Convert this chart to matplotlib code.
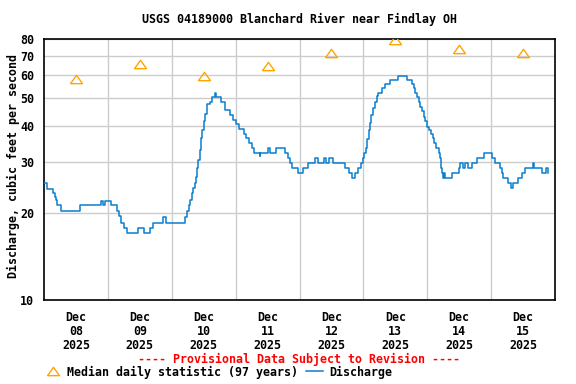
import matplotlib
matplotlib.use("Agg")
import matplotlib.pyplot as plt
from matplotlib.lines import Line2D

# Discharge readings (hours since Dec 08 00:00, cfs), step changes
hours = [0, 1.2, 3.3, 4.0, 4.5, 5.0, 6.5, 13.6, 21.3, 22.2, 23.0, 25.1, 27.5, 28.2,
         29.1, 30.1, 31.2, 35.4, 37.6, 39.8, 41.0, 44.7, 45.8, 53.0, 53.7, 54.5,
         55.0, 55.6, 56.1, 56.6, 57.0, 57.5, 58.0, 58.5, 59.0, 59.5, 60.0, 60.5,
         61.2, 62.3, 63.3, 64.1, 64.8, 66.6, 68.0, 70.0, 71.0, 72.0, 73.2, 75.0,
         76.0, 77.0, 78.0, 78.8, 81.0, 81.25, 84.1, 84.75, 87.0, 90.4, 91.6, 92.5,
         93.25, 95.4, 97.2, 99.1, 101.9, 102.9, 105.1, 106.0, 107.25, 108.75,
         113.0, 114.75, 115.75, 117.0, 118.0, 119.0, 119.75, 120.4, 121.0, 121.5,
         122.0, 122.5, 123.0, 123.6, 124.25, 125.0, 125.4, 127.0, 128.25, 130.1,
         132.9, 136.4, 138.25, 138.9, 139.5, 140.1, 140.75, 141.4, 142.0, 142.6,
         143.25, 143.9, 144.75, 145.4, 146.0, 146.6, 147.25, 148.25, 148.75,
         149.0, 149.4, 149.75, 150.25, 150.75, 153.25, 155.75, 156.25, 157.25,
         158.25, 159.25, 160.75, 162.75, 165.25, 168.25, 169.5, 171.25, 172.0,
         172.5, 174.5, 175.4, 176.25, 178.25, 179.5, 180.75, 183.75, 184.1,
         187.25, 188.75, 189.25, 189.5]
flow = [25.5, 24.2, 23.4, 22.8, 22.2, 21.3, 20.3, 21.3, 22.0, 21.3, 22.0, 21.3,
        20.3, 19.5, 18.5, 17.7, 17.0, 17.7, 17.0, 17.7, 18.5, 19.3, 18.5, 19.3,
        20.3, 21.3, 22.2, 23.4, 24.4, 25.5, 26.7, 28.6, 30.5, 33.0, 36.3, 38.8,
        41.5, 44.0, 47.5, 48.5, 50.3, 52.0, 50.3, 48.5, 45.4, 43.5, 42.0, 40.5,
        39.1, 37.6, 36.3, 34.9, 33.5, 32.2, 31.4, 32.2, 33.5, 32.2, 33.5, 32.2,
        30.9, 29.7, 28.6, 27.4, 28.6, 29.7, 30.9, 29.7, 30.9, 29.7, 30.9, 29.7,
        28.6, 27.4, 26.4, 27.4, 28.6, 29.7, 30.9, 32.2, 33.5, 36.0, 38.8, 41.0,
        43.5, 46.0, 48.5, 51.0, 52.0, 54.0, 55.9, 57.7, 59.6, 57.7, 56.0, 54.0,
        52.0, 50.5, 48.5, 46.7, 45.0, 43.1, 41.5, 39.8, 38.8, 37.6, 36.3, 34.9,
        33.5, 32.2, 30.9, 28.6, 27.4, 26.4, 27.4, 26.4, 27.4, 28.6, 29.7, 28.6,
        29.7, 28.6, 29.7, 30.9, 32.2, 30.9, 29.7, 28.6, 27.4, 26.4, 25.5, 24.4,
        25.5, 26.4, 27.4, 28.6, 29.7, 28.6, 27.4, 28.6, 27.4, 27.4]

# Median daily statistic, plotted at noon of each day
median_hours = [12, 36, 60, 84, 108, 132, 156, 180]
median_flow = [58.4, 65.3, 59.4, 64.3, 71.4, 79.2, 73.7, 71.4]

day_labels = ["Dec\n08\n2025", "Dec\n09\n2025", "Dec\n10\n2025", "Dec\n11\n2025",
              "Dec\n12\n2025", "Dec\n13\n2025", "Dec\n14\n2025", "Dec\n15\n2025"]
y_ticks = [10, 20, 30, 40, 50, 60, 70, 80]

line_color = "#0a7ecf"
tri_color = "#ffa500"
tri = [(-1, -0.7), (1, -0.7), (0, 0.7), (-1, -0.7)]  # flat open triangle
font = {"family": "DejaVu Sans Mono", "weight": "bold", "size": 8.4}

fig = plt.figure(figsize=(5.76, 3.84), dpi=100)
ax = fig.add_axes([44/576, 1-300/384, (555-44)/576, (300-39)/384])

ax.plot(hours, flow, color=line_color, lw=1.1, drawstyle="steps-post", zorder=3)
ax.plot(median_hours, median_flow, ls="none", marker=tri, ms=8.6, mfc="none",
        mec=tri_color, mew=1.0, zorder=4)

ax.set_yscale("log")
ax.set_ylim(10, 80)
ax.set_yticks(y_ticks)
ax.set_yticklabels([str(v) for v in y_ticks], fontdict=font)
ax.yaxis.set_minor_locator(matplotlib.ticker.NullLocator())

ax.set_xlim(0, 192)
ax.set_xticks(range(24, 192, 24))
ax.set_xticklabels([])
ax.set_xticks(median_hours, minor=True)
ax.set_xticklabels(day_labels, minor=True, fontdict=font, linespacing=1.1)

ax.tick_params(axis="both", which="both", length=0)
ax.tick_params(axis="y", pad=7)
ax.tick_params(axis="x", which="minor", pad=8)
ax.grid(True, which="major", color="#cccccc", lw=1)
for s in ax.spines.values():
    s.set_linewidth(1.2)

fig.text(299.5/576, 1-19/384, "USGS 04189000 Blanchard River near Findlay OH",
         ha="center", va="center", fontdict=font)
fig.text(13/576, 1-166/384, "Discharge, cubic feet per second", rotation=90,
         ha="center", va="center", fontdict=font)
fig.text(298.5/576, 1-359/384, "---- Provisional Data Subject to Revision ----",
         ha="center", va="center", color="red", fontdict=font)

# legend row
fig.add_artist(Line2D([53/576], [1-371/384], transform=fig.transFigure, ls="none",
                      marker=tri, ms=8.6, mfc="none", mec=tri_color, mew=1.0))
fig.text(67/576, 1-372/384, "Median daily statistic (97 years)", ha="left",
         va="center", fontdict=font)
fig.add_artist(Line2D([306/576, 323/576], [1-371/384, 1-371/384],
                      transform=fig.transFigure, color=line_color, lw=1.1))
fig.text(329/576, 1-372/384, "Discharge", ha="left", va="center", fontdict=font)

fig.savefig("out.png", dpi=100)
